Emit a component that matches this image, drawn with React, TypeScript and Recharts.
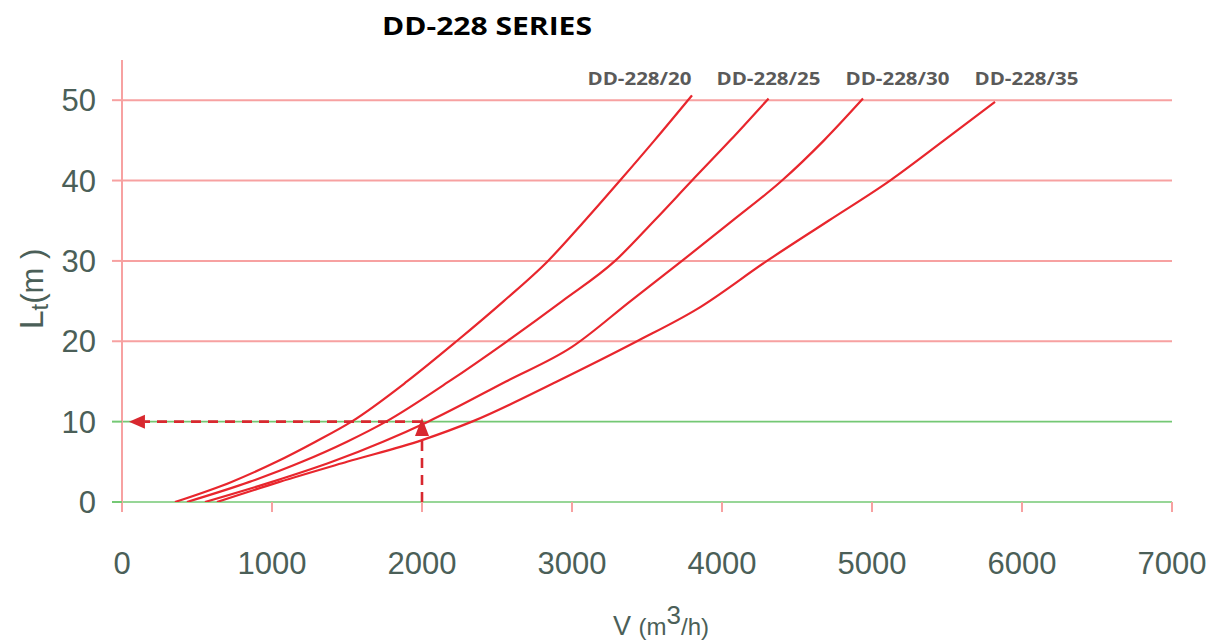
import React from "react";
import {
  LineChart,
  Line,
  XAxis,
  YAxis,
  ReferenceLine,
  ReferenceDot,
} from "recharts";

// axis ticks
const flowTicks = [0, 1000, 2000, 3000, 4000, 5000, 6000, 7000];
const heightTicks = [0, 10, 20, 30, 40, 50];

// curves: flow V (m3/h) vs throw Lt (m)
const seriesNames = ["DD-228/20", "DD-228/25", "DD-228/30", "DD-228/35"];

const dd20Flow = [353, 730, 1030, 1290, 1530, 1900, 2230, 2545, 2840, 3085, 3320, 3550, 3800];
const dd20Lt = [0, 2.5, 5, 7.5, 10, 15, 20, 25, 30, 35, 40, 45, 50.6];

const dd25Flow = [433, 850, 1200, 1500, 1760, 2180, 2567, 2935, 3287, 3548, 3800, 4055, 4310];
const dd25Lt = [0, 2.5, 5, 7.5, 10, 15, 20, 25, 30, 35, 40, 45, 50.2];

const dd30Flow = [553, 1000, 1400, 1740, 2040, 2560, 3000, 3390, 3733, 4070, 4400, 4680, 4940];
const dd30Lt = [0, 2.5, 5, 7.5, 10, 15, 19.3, 25, 30, 35, 40, 45, 50.2];

const dd35Flow = [633, 1050, 1500, 2000, 2333, 2900, 3433, 3833, 4300, 4710, 5120, 5480, 5820];
const dd35Lt = [0, 2.5, 5, 7.7, 10, 15, 20, 24, 30, 35, 40, 45, 49.8];

// worked example: 2000 m3/h -> 10 m
const exampleFlow = 2000;
const exampleLt = 10;

const toPoints = (flow: number[], lt: number[]) =>
  flow.map((v, i) => ({ v, lt: lt[i] }));

const curves = [
  toPoints(dd20Flow, dd20Lt),
  toPoints(dd25Flow, dd25Lt),
  toPoints(dd30Flow, dd30Lt),
  toPoints(dd35Flow, dd35Lt),
];

// where the curve names sit (data coords)
const nameFlow = [3450, 4310, 5170, 6030];
const nameLt = 52.8;

const RED = "#e8262d";
const PINK = "#f7a1a1";
const GREEN = "#74c874";
const TEXT = "#4b5f58";
const ARROW = "#d8282f";

const YTick = (props: any) => {
  const { x, y, payload } = props;
  const c = payload.value <= 10 ? GREEN : PINK;
  return (
    <g>
      <line x1={x + 2} x2={x + 12} y1={y} y2={y} stroke={c} strokeWidth={2} />
      <text
        x={x - 14}
        y={y + 11}
        textAnchor="end"
        fontSize={31}
        fontFamily="Liberation Sans, Arial, sans-serif"
        fill={TEXT}
      >
        {payload.value}
      </text>
    </g>
  );
};

const XTick = (props: any) => {
  const { x, y, payload } = props;
  return (
    <text
      x={x}
      y={y + 60}
      textAnchor="middle"
      fontSize={31}
      fontFamily="Liberation Sans, Arial, sans-serif"
      fill={TEXT}
    >
      {payload.value}
    </text>
  );
};

const arrowDot = (dir: "up" | "left") => (props: any) => {
  const { cx, cy, index } = props;
  if (index !== 1) return <g key={`a-${dir}-${index}`} />;
  const pts =
    dir === "up"
      ? `${cx - 7},${cy} ${cx + 7},${cy} ${cx},${cy - 18}`
      : `${cx},${cy - 7} ${cx},${cy + 7} ${cx - 16},${cy}`;
  return <polygon key={`a-${dir}`} points={pts} fill={ARROW} />;
};

export default function App() {
  return (
    <div style={{ position: "absolute", left: 0, top: 0, background: "#fff" }}>
      <svg
        width={1218}
        height={50}
        style={{ position: "absolute", left: 0, top: 0 }}
      >
        <text
          x={382}
          y={35}
          fontFamily="Open Sans, sans-serif"
          fontWeight={700}
          fontSize={25}
          fill="#000"
          textLength={210}
          lengthAdjust="spacingAndGlyphs"
        >
          DD-228 SERIES
        </text>
      </svg>
      <LineChart
        width={1218}
        height={643}
        margin={{ top: 60, right: 46, bottom: 0, left: 0 }}
      >
        <XAxis
          dataKey="v"
          type="number"
          domain={[0, 7000]}
          ticks={flowTicks}
          axisLine={false}
          tickSize={10}
          tickLine={{ stroke: PINK, strokeWidth: 2 }}
          tick={<XTick />}
          height={141}
          allowDataOverflow
          label={(p: any) => (
            <text
              x={613}
              y={635}
              fontFamily="Liberation Sans, Arial, sans-serif"
              fill={TEXT}
            >
              <tspan fontSize={27}>V </tspan>
              <tspan fontSize={24}>(m</tspan>
              <tspan fontSize={26} dy={-11}>3</tspan>
              <tspan fontSize={24} dy={11}>/h)</tspan>
            </text>
          )}
        />
        <YAxis
          dataKey="lt"
          type="number"
          domain={[0, 55]}
          ticks={heightTicks}
          width={122}
          tickSize={10}
          tickMargin={2}
          tickLine={false}
          axisLine={{ stroke: PINK, strokeWidth: 2 }}
          tick={<YTick />}
          allowDataOverflow
          label={(p: any) => (
            <text
              transform="translate(43, 289) rotate(-90)"
              textAnchor="middle"
              fontFamily="Liberation Sans, Arial, sans-serif"
              fill={TEXT}
            >
              <tspan fontSize={34}>L</tspan>
              <tspan fontSize={24} dy={5}>t</tspan>
              <tspan fontSize={31} dy={-5}>(m )</tspan>
            </text>
          )}
        />
        {heightTicks.map((t) => (
          <ReferenceLine
            key={`g-${t}`}
            y={t}
            stroke={t <= 10 ? GREEN : PINK}
            strokeWidth={t <= 10 ? 1.6 : 2}
          />
        ))}
        {curves.map((pts, i) => (
          <Line
            key={seriesNames[i]}
            name={seriesNames[i]}
            data={pts}
            dataKey="lt"
            type="monotone"
            stroke={RED}
            strokeWidth={2.2}
            dot={false}
            isAnimationActive={false}
          />
        ))}
        <Line
          data={[
            { v: exampleFlow, lt: 0 },
            { v: exampleFlow, lt: 8.2 },
          ]}
          dataKey="lt"
          type="linear"
          stroke={ARROW}
          strokeWidth={2.6}
          strokeDasharray="10 7"
          dot={arrowDot("up")}
          isAnimationActive={false}
        />
        <Line
          data={[
            { v: exampleFlow, lt: exampleLt },
            { v: 153, lt: exampleLt },
          ]}
          dataKey="lt"
          type="linear"
          stroke={ARROW}
          strokeWidth={2.6}
          strokeDasharray="10 7"
          dot={arrowDot("left")}
          isAnimationActive={false}
        />
        {seriesNames.map((n, i) => (
          <ReferenceDot
            key={`n-${n}`}
            x={nameFlow[i]}
            y={nameLt}
            r={1}
            shape={(p: any) => (
              <text
                x={p.cx}
                y={p.cy + 7}
                textAnchor="middle"
                fontFamily="Open Sans, sans-serif"
                fontWeight={700}
                fontSize={17.5}
                fill="#5a5a5a"
                textLength={104}
                lengthAdjust="spacingAndGlyphs"
              >
                {n}
              </text>
            )}
          />
        ))}
      </LineChart>
    </div>
  );
}
